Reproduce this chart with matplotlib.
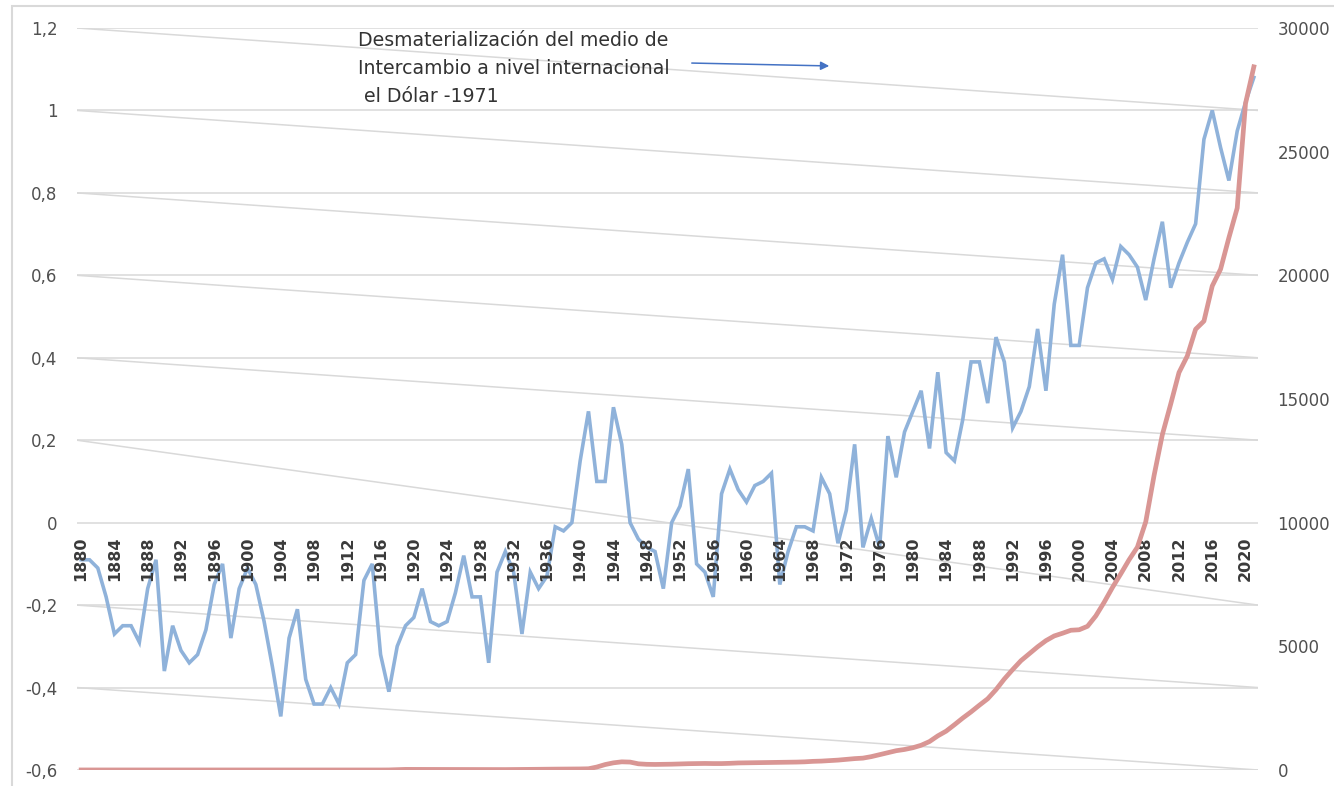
import matplotlib
matplotlib.use("Agg")
import matplotlib.pyplot as plt
from matplotlib.patches import Rectangle, FancyArrowPatch

# ---------------- data ----------------
years = list(range(1880, 2022))

anomaly = [
    -0.09, -0.09, -0.11, -0.18, -0.27, -0.25, -0.25, -0.29, -0.16, -0.09,   # 1880-1889
    -0.36, -0.25, -0.31, -0.34, -0.32, -0.26, -0.15, -0.10, -0.28, -0.16,   # 1890-1899
    -0.11, -0.15, -0.24, -0.35, -0.47, -0.28, -0.21, -0.38, -0.44, -0.44,   # 1900-1909
    -0.40, -0.44, -0.34, -0.32, -0.14, -0.10, -0.32, -0.41, -0.30, -0.25,   # 1910-1919
    -0.23, -0.16, -0.24, -0.25, -0.24, -0.17, -0.08, -0.18, -0.18, -0.34,   # 1920-1929
    -0.12, -0.07, -0.12, -0.27, -0.12, -0.16, -0.13, -0.01, -0.02, 0.00,    # 1930-1939
    0.15, 0.27, 0.10, 0.10, 0.28, 0.19, 0.00, -0.04, -0.06, -0.07,          # 1940-1949
    -0.16, 0.00, 0.04, 0.13, -0.10, -0.12, -0.18, 0.07, 0.13, 0.08,         # 1950-1959
    0.05, 0.09, 0.10, 0.12, -0.15, -0.07, -0.01, -0.01, -0.02, 0.11,        # 1960-1969
    0.07, -0.05, 0.03, 0.19, -0.06, 0.01, -0.06, 0.21, 0.11, 0.22,          # 1970-1979
    0.27, 0.32, 0.18, 0.365, 0.17, 0.15, 0.25, 0.39, 0.39, 0.29,            # 1980-1989
    0.45, 0.39, 0.23, 0.27, 0.33, 0.47, 0.32, 0.53, 0.65, 0.43,             # 1990-1999
    0.43, 0.57, 0.63, 0.64, 0.59, 0.67, 0.65, 0.62, 0.54, 0.64,             # 2000-2009
    0.73, 0.57, 0.63, 0.68, 0.725, 0.93, 1.00, 0.91, 0.83, 0.95,            # 2010-2019
    1.02, 1.08,                                                              # 2020-2021
]

debt = [
    2.1, 2.0, 1.9, 1.7, 1.6, 1.6, 1.6, 1.5, 1.4, 1.2,            # 1880-1889
    1.1, 1.0, 1.0, 1.0, 1.0, 1.1, 1.2, 1.2, 1.2, 1.4,            # 1890-1899
    1.3, 1.2, 1.2, 1.2, 1.1, 1.1, 1.1, 1.1, 1.2, 1.1,            # 1900-1909
    1.1, 1.2, 1.2, 1.2, 1.2, 1.2, 1.2, 3, 12, 25,                # 1910-1919
    24, 24, 23, 22, 21, 20, 20, 18, 18, 17,                      # 1920-1929
    16, 17, 19, 23, 27, 29, 34, 36, 37, 40,                      # 1930-1939
    43, 50, 120, 220, 290, 330, 320, 250, 230, 225,              # 1940-1949
    230, 235, 245, 255, 260, 265, 260, 260, 270, 285,            # 1950-1959
    290, 295, 300, 305, 310, 315, 320, 330, 350, 360,            # 1960-1969
    380, 400, 430, 460, 480, 540, 620, 700, 780, 830,            # 1970-1979
    900, 1000, 1150, 1380, 1570, 1830, 2100, 2350, 2620, 2880,   # 1980-1989
    3250, 3680, 4060, 4420, 4700, 4980, 5230, 5420, 5530, 5650,  # 1990-1999
    5670, 5810, 6230, 6780, 7380, 7930, 8500, 9010, 10030, 11900,  # 2000-2009
    13560, 14790, 16070, 16740, 17820, 18150, 19570, 20250, 21520, 22720,  # 2010-2019
    26950, 28430,                                                # 2020-2021
]

left_ticks = [-0.6, -0.4, -0.2, 0.0, 0.2, 0.4, 0.6, 0.8, 1.0, 1.2]
right_ticks = [0, 5000, 10000, 15000, 20000, 25000, 30000]
year_labels = list(range(1880, 2021, 4))
# slanted light lines: (start value at left edge, end value at right edge)
slant_lines = [(1.2, 1.0), (1.0, 0.8), (0.8, 0.6), (0.6, 0.4), (0.4, 0.2),
               (0.2, -0.2), (-0.2, -0.4), (-0.4, -0.6)]

annotation_lines = ["Desmaterialización del medio de",
                    "Intercambio a nivel internacional",
                    " el Dólar -1971"]

# ---------------- styling ----------------
W, H = 1334, 786
BLUE = "#8FB2DA"
RED = "#D99694"
GRID = "#D9D9D9"
TXT = "#505050"

fig = plt.figure(figsize=(W / 100, H / 100), dpi=100)
fig.patch.set_facecolor("white")

L, R, T, B = 77, 1258, 28, 770
ax = fig.add_axes([L / W, (H - B) / H, (R - L) / W, (B - T) / H])
ax.set_xlim(1879.5, 2021.5)
ax.set_ylim(-0.6, 1.2)
for s in ax.spines.values():
    s.set_visible(False)

# horizontal grid
for v in left_ticks:
    ax.axhline(v, color=GRID, lw=1.1, zorder=1)
# slanted lines
x0, x1 = ax.get_xlim()
for a, b in slant_lines:
    ax.plot([x0, x1], [a, b], color=GRID, lw=1.1, zorder=1)

ax.plot(years, anomaly, color=BLUE, lw=2.6, zorder=3, solid_joinstyle="miter")

ax.set_yticks(left_ticks)
ax.set_yticklabels([f"{v:g}".replace(".", ",") for v in left_ticks],
                   fontsize=12, color=TXT)
ax.tick_params(axis="y", length=0, pad=14)
ax.set_xticks([])

for yr in year_labels:
    ax.annotate(str(yr), xy=(yr, 0), xytext=(0, -14), textcoords="offset pixels",
                rotation=90, ha="center", va="top", fontsize=11.5,
                fontweight="bold", color="#3A3A3A", zorder=5)

ax2 = ax.twinx()
ax2.set_ylim(0, 30000)
for s in ax2.spines.values():
    s.set_visible(False)
ax2.plot(years, debt, color=RED, lw=3.4, zorder=4)
ax2.set_yticks(right_ticks)
ax2.set_yticklabels([str(v) for v in right_ticks], fontsize=12, color=TXT)
ax2.tick_params(axis="y", length=0, pad=14)

# annotation text and arrow (figure pixel positions)
for i, line in enumerate(annotation_lines):
    fig.text(358 / W, 1 - (40 + 28.5 * i) / H, line, fontsize=13.6,
             color="#333333", ha="left", va="center")
arrow = FancyArrowPatch((689, H - 63), (832, H - 66), transform=None,
                        arrowstyle="-|>,head_length=5,head_width=2.5",
                        color="#4472C4", lw=1.1, mutation_scale=1)
fig.patches.append(arrow)

# outer chart border
fig.patches.append(Rectangle((12, -10), W + 20, H - 6 + 10, transform=None,
                             fill=False, edgecolor="#D9D9D9", lw=1.5))

fig.savefig("out.png", dpi=100, facecolor="white")
